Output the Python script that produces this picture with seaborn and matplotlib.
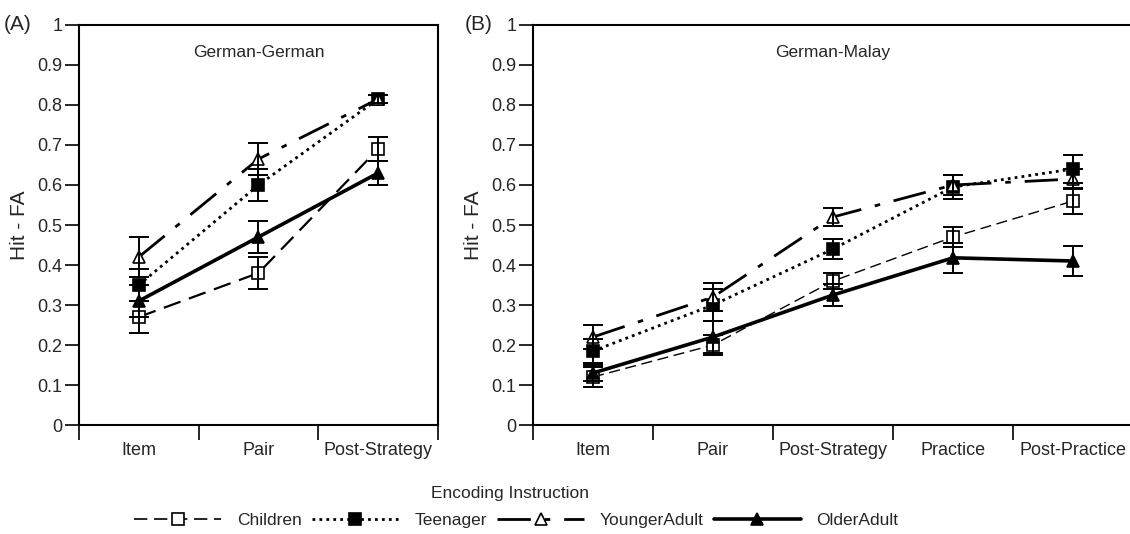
import numpy as np
import pandas as pd
import matplotlib
matplotlib.use('Agg')
import matplotlib.pyplot as plt
from matplotlib.lines import Line2D
import seaborn as sns

# ------------------------------------------------------------------
# DATA – values
# ------------------------------------------------------------------
groups = ['Children', 'Teenager', 'YoungerAdult', 'OlderAdult']

cats_a = ['Item', 'Pair', 'Post-Strategy']
mean_a = {
    'Children':     [0.27, 0.38, 0.69],
    'Teenager':     [0.35, 0.60, 0.815],
    'YoungerAdult': [0.42, 0.665, 0.815],
    'OlderAdult':   [0.31, 0.47, 0.63],
}
err_a = {
    'Children':     [0.04, 0.04, 0.03],
    'Teenager':     [0.04, 0.04, 0.01],
    'YoungerAdult': [0.05, 0.04, 0.01],
    'OlderAdult':   [0.04, 0.04, 0.03],
}

cats_b = ['Item', 'Pair', 'Post-Strategy', 'Practice', 'Post-Practice']
mean_b = {
    'Children':     [0.12, 0.20, 0.36, 0.47, 0.56],
    'Teenager':     [0.185, 0.30, 0.44, 0.595, 0.64],
    'YoungerAdult': [0.22, 0.32, 0.52, 0.60, 0.615],
    'OlderAdult':   [0.13, 0.22, 0.325, 0.418, 0.41],
}
err_b = {
    'Children':     [0.025, 0.025, 0.02, 0.025, 0.033],
    'Teenager':     [0.03, 0.04, 0.025, 0.03, 0.035],
    'YoungerAdult': [0.03, 0.035, 0.023, 0.025, 0.025],
    'OlderAdult':   [0.02, 0.04, 0.027, 0.037, 0.037],
}

# ------------------------------------------------------------------
# STYLE per group
# ------------------------------------------------------------------
styles = {
    'Children':     dict(marker='s', mfc='white', ls=(0, (8, 4)), lw=1.6),
    'Teenager':     dict(marker='s', mfc='black', ls=(0, (1, 1.5)), lw=2.0),
    'YoungerAdult': dict(marker='^', mfc='white', ls=(0, (12, 5, 2, 5)), lw=2.0),
    'OlderAdult':   dict(marker='^', mfc='black', ls='-', lw=2.6),
}

sns.set_theme(style='ticks')
plt.rcParams['font.family'] = ['Liberation Sans', 'DejaVu Sans']

fig = plt.figure(figsize=(11.3, 5.34), dpi=100)
ax_a = fig.add_axes([0.0699, 0.2041, 0.3177, 0.7491])
ax_b = fig.add_axes([0.4717, 0.2041, 0.531, 0.7491])


def draw_panel(ax, cats, means, errs, title, tag, thin_children=False):
    x = np.arange(len(cats))
    for g in groups:
        st = styles[g]
        lw = st['lw']
        if thin_children and g == 'Children':
            lw = 1.0
        df = pd.DataFrame({'x': x, 'y': means[g]})
        sns.lineplot(data=df, x='x', y='y', ax=ax, color='black', linestyle=st['ls'],
                     linewidth=lw, marker=st['marker'], markersize=8.5,
                     markerfacecolor=st['mfc'], markeredgecolor='black',
                     markeredgewidth=1.2, errorbar=None, zorder=3)
        ax.errorbar(x, means[g], yerr=errs[g], fmt='none', ecolor='black',
                    elinewidth=1.4, capsize=7, capthick=1.4, zorder=4)

    ax.set_xlim(-0.5, len(cats) - 0.5)
    ax.set_ylim(0, 1)
    ax.set_yticks(np.round(np.arange(0, 1.01, 0.1), 1))
    ax.set_yticklabels(['0'] + [f'{v:.1f}' for v in np.arange(0.1, 0.95, 0.1)] + ['1'])
    ax.set_xticks(np.arange(-0.5, len(cats), 1.0))
    ax.set_xticklabels([])
    ax.set_xticks(x, minor=True)
    ax.set_xticklabels(cats, minor=True, fontsize=13)
    ax.tick_params(axis='x', which='major', length=11, width=1.4, direction='out')
    ax.tick_params(axis='x', which='minor', length=0, pad=12)
    ax.tick_params(axis='y', length=10, width=1.4, labelsize=13, pad=2)
    for sp in ax.spines.values():
        sp.set_linewidth(1.5)
        sp.set_color('black')
    ax.set_xlabel('')
    ax.set_ylabel('Hit - FA', fontsize=15, labelpad=6)
    ax.text(0.5, 0.93, title, transform=ax.transAxes, ha='center', va='center', fontsize=12.5)
    ax.text(-0.2, 1.0, tag, transform=ax.transAxes, ha='center', va='center', fontsize=15)
    ax.grid(False)


draw_panel(ax_a, cats_a, mean_a, err_a, 'German-German', '(A)')
draw_panel(ax_b, cats_b, mean_b, err_b, 'German-Malay', '(B)', thin_children=True)
ax_a.texts[-1].set_position((-0.17, 1.0))
ax_b.texts[-1].set_position((-0.09, 1.0))
ax_b.spines['right'].set_visible(False)

fig.text(0.451, 0.075, 'Encoding Instruction', ha='center', va='center', fontsize=12.5)

handles = []
for g in groups:
    st = styles[g]
    handles.append(Line2D([0], [0], color='black', linestyle=st['ls'], linewidth=st['lw'] if g != 'Children' else 1.2,
                          marker=st['marker'], markersize=8.5, markerfacecolor=st['mfc'],
                          markeredgecolor='black', markeredgewidth=1.2))
fig.legend(handles, groups, loc='center', bbox_to_anchor=(0.457, 0.026), ncol=4, frameon=False,
           fontsize=12.5, handlelength=5.0, handletextpad=0.9, columnspacing=0.6)

fig.savefig('out.png', dpi=100)
